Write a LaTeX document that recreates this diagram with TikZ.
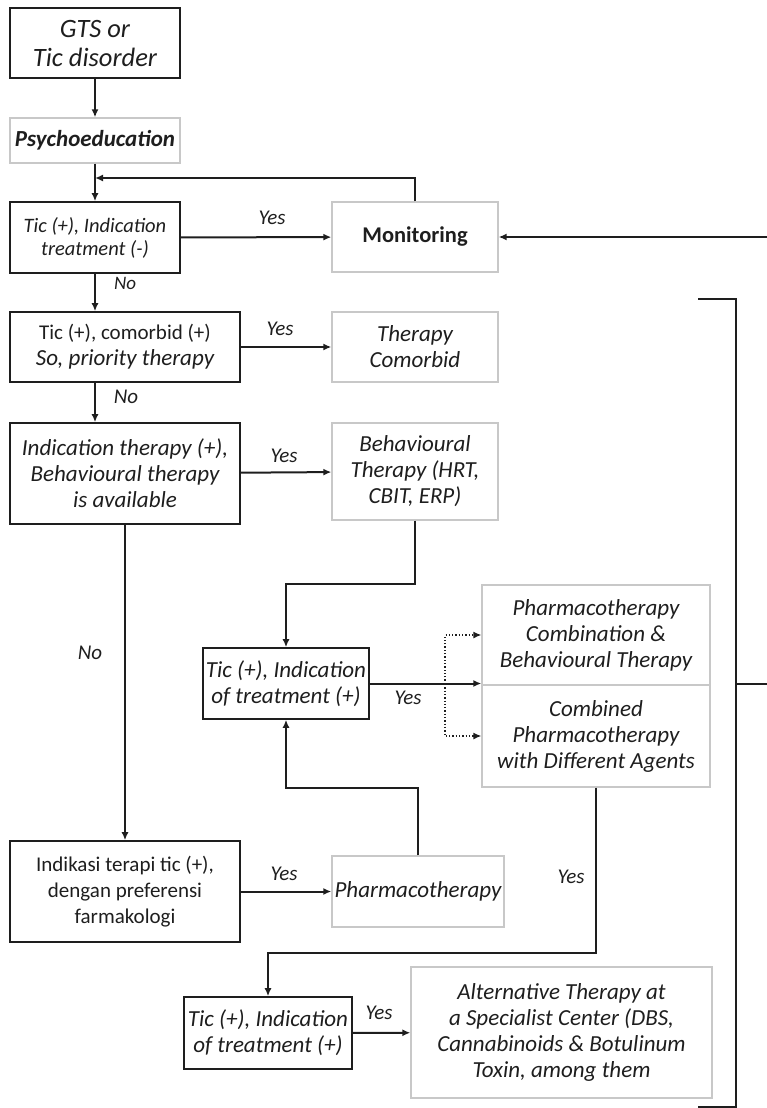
\documentclass[tikz,border=0pt]{standalone}
\usepackage{fontspec}
\setmainfont{Carlito}
\usetikzlibrary{arrows.meta}

\definecolor{boxgray}{RGB}{200,200,200}
\definecolor{ink}{RGB}{30,30,30}

\begin{document}
\begin{tikzpicture}[x=1pt,y=-1pt,
  decision/.style={draw=ink, line width=1.6pt, align=center, inner sep=0pt, text=ink,
    font=\fontsize{23}{26}\selectfont\itshape},
  outcome/.style={draw=boxgray, line width=1.3pt, align=center, inner sep=0pt, text=ink,
    font=\fontsize{23}{26}\selectfont\itshape},
  flow/.style={line width=2pt, draw=ink, -{Latex[length=8pt,width=7pt]}},
  dotflow/.style={line width=1.3pt, draw=ink, dotted, -{Latex[length=8pt,width=7pt]}},
  lbl/.style={font=\fontsize{21}{24}\selectfont\itshape, text=ink, inner sep=0pt}]

\useasboundingbox (0,0) rectangle (767,1108);

% left column
\node[decision, minimum width=170, minimum height=70, font=\fontsize{26.5}{29}\selectfont\itshape] (gts) at (95,43) {GTS or\\Tic disorder};
\node[outcome, minimum width=170, minimum height=45, font=\fontsize{23}{26}\selectfont\bfseries\itshape] (psy) at (95,140.5) {Psychoeducation};
\node[decision, minimum width=170, minimum height=71, font=\fontsize{20.5}{23}\selectfont\itshape] (tica) at (95,237.5) {Tic (+), Indication\\treatment (-)};
\node[decision, minimum width=230, minimum height=70, font=\fontsize{21}{26}\selectfont] (ticb) at (125,347) {Tic (+), comorbid (+)\\\fontsize{23}{26}\selectfont\itshape So, priority therapy};
\node[decision, minimum width=230, minimum height=101] (indb) at (125,473.5) {Indication therapy (+),\\Behavioural therapy\\is available};
\node[decision, minimum width=230, minimum height=101, font=\fontsize{21}{26}\selectfont] (indk) at (125,891.5) {Indikasi terapi tic (+),\\dengan preferensi\\farmakologi};

% right column
\node[outcome, minimum width=166, minimum height=70, font=\fontsize{22.5}{26}\selectfont\bfseries] (mon) at (415,237) {Monitoring};
\node[outcome, minimum width=166, minimum height=70] (thc) at (415,347) {Therapy\\Comorbid};
\node[outcome, minimum width=166, minimum height=97] (beh) at (415,471.5) {Behavioural\\Therapy (HRT,\\CBIT, ERP)};
\node[decision, minimum width=166, minimum height=71] (ticc) at (286,683.5) {Tic (+), Indication\\of treatment (+)};
\node[outcome, minimum width=228, minimum height=100] (comb) at (596,635) {Pharmacotherapy\\Combination \&\\Behavioural Therapy};
\node[outcome, minimum width=228, minimum height=102] (cmbd) at (596,736) {Combined\\Pharmacotherapy\\with Different Agents};
\node[outcome, minimum width=172, minimum height=71] (pha) at (418,891.5) {Pharmacotherapy};
\node[decision, minimum width=168, minimum height=72] (ticd) at (268,1033) {Tic (+), Indication\\of treatment (+)};
\node[outcome, minimum width=301, minimum height=131] (alt) at (561.5,1032.5) {Alternative Therapy at\\a Specialist Center (DBS,\\Cannabinoids \& Botulinum\\Toxin, among them};

\coordinate (fb) at (95,178);
\coordinate (rin) at (767,237);
\coordinate (dmid) at (445,684);
\coordinate (brt) at (698,299);
\coordinate (brb) at (698,1107);
\coordinate (brm) at (736,684);
\coordinate (rout) at (767,684);

\draw[flow] (gts) -- (psy);
\draw[flow] (psy) -- (tica);
\draw[flow] (mon.north) |- (fb);
\draw[flow] (tica) -- (mon);
\draw[flow] (rin) -- (mon);
\draw[flow] (tica.south) -- (tica.south |- ticb.north);
\draw[flow] (ticb) -- (thc);
\draw[flow] (tica.south |- ticb.south) -- (tica.south |- indb.north);
\draw[flow] (indb) -- (beh);
\draw[flow] (beh.south) -- (beh.south |- comb.north) -| (ticc.north);
\draw[flow] (ticc.east) -- (ticc.east -| comb.west);
\draw[dotflow] (dmid) |- (comb.west);
\draw[dotflow] (dmid) |- (cmbd.west);
\draw[flow] (indb.south) -- (indk.north);
\draw[flow] (indk) -- (pha);
\draw[flow] (pha.north) -- (pha.north |- cmbd.south) -| (ticc.south);
\draw[flow] (cmbd.south) -- ++(0,165) -| (ticd.north);
\draw[flow] (ticd) -- (alt);

% bracket on the right
\draw[line width=2pt, draw=ink] (brt) -- (brt -| brm) -- (brb -| brm) -- (brb);
\draw[line width=2pt, draw=ink] (brm) -- (rout);

% labels
\node[lbl] (y1) at (272,218) {Yes};
\node[lbl, font=\fontsize{19}{22}\selectfont\itshape] (n1) at (125,283) {No};
\node[lbl] (y2) at (280,329) {Yes};
\node[lbl] (n2) at (126,397) {No};
\node[lbl] (y3) at (284,456) {Yes};
\node[lbl] (n3) at (90,653) {No};
\node[lbl] (y4) at (408,698) {Yes};
\node[lbl] (y5) at (284,874) {Yes};
\node[lbl] (y6) at (571,877) {Yes};
\node[lbl] (y7) at (379,1013) {Yes};

\end{tikzpicture}
\end{document}
